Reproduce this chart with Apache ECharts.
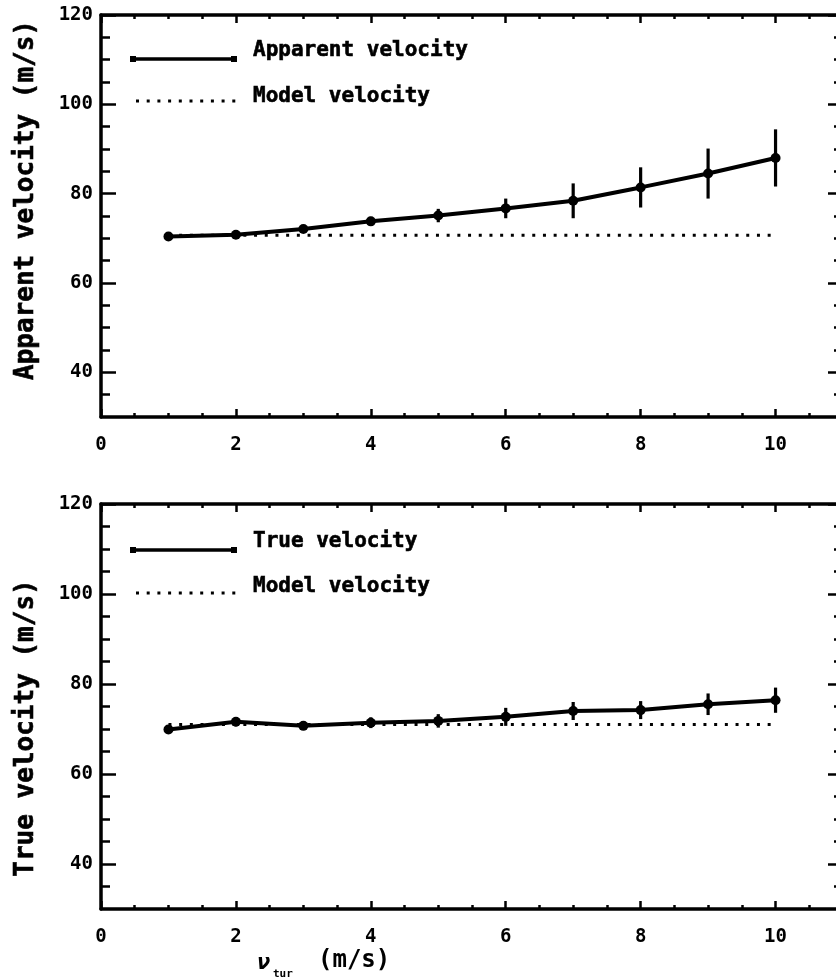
<!DOCTYPE html>
<html>
<head>
<meta charset="utf-8">
<script src="https://cdn.jsdelivr.net/npm/echarts@6/dist/echarts.min.js"></script>
<style>
  html, body { margin: 0; padding: 0; background: #fff; }
  #chart { width: 836px; height: 980px; }
</style>
</head>
<body>
<div id="chart"></div>
<script>
// ---- data ----
const xs = [1, 2, 3, 4, 5, 6, 7, 8, 9, 10];
const apparentVel = [70.4, 70.8, 72.1, 73.8, 75.1, 76.7, 78.4, 81.4, 84.5, 88.0];
const apparentErr = [0.5, 0.6, 0.8, 1.0, 1.5, 2.2, 3.9, 4.5, 5.6, 6.4];
const trueVel = [69.9, 71.6, 70.7, 71.4, 71.8, 72.7, 74.0, 74.2, 75.5, 76.4];
const trueErr = [0.4, 1.0, 0.5, 1.2, 1.5, 2.0, 2.0, 2.0, 2.4, 2.8];
const modelTop = [70.7, 70.7, 70.7, 70.7, 70.7, 70.7, 70.7, 70.7, 70.7, 70.7];
const modelBottom = [71.0, 71.0, 71.0, 71.0, 71.0, 71.0, 71.0, 71.0, 71.0, 71.0];

// tick positions
const xMajor = [0, 2, 4, 6, 8, 10];
const xMinor = [0.5, 1, 1.5, 2.5, 3, 3.5, 4.5, 5, 5.5, 6.5, 7, 7.5, 8.5, 9, 9.5, 10.5];
const yMajor = [40, 60, 80, 100, 120];
const yMinor = [35, 45, 50, 55, 65, 70, 75, 85, 90, 95, 105, 110, 115];

const FONT = "DejaVu Sans Mono";
const BLACK = "#000";

// panel rectangles; x runs 0..11 so the right border falls just past the page edge
const rects = [
  { left: 101, width: 742, top: 15, height: 402 },
  { left: 101, width: 742, top: 504, height: 405 }
];
// each panel uses 4 stacked grids: 0 data+major (bottom/left), 1 minor (bottom/left),
// 2 major mirrored (top/right), 3 minor mirrored (top/right)
const KINDS = ["major", "minor", "majorMirror", "minorMirror"];
const grids = [];
const xAxes = [];
const yAxes = [];

const axLine = { show: true, lineStyle: { color: BLACK, width: 3.5 } };
const tickStyle = { color: BLACK, width: 2.5 };
const labelStyle = { color: BLACK, fontFamily: FONT, fontWeight: "bold", fontSize: 19 };

KINDS.forEach((kind) => {
  rects.forEach((r) => {
    const g = grids.length;
    grids.push({ ...r, outerBoundsMode: "none", containLabel: false });
    const minor = kind.startsWith("minor");
    const mirror = kind.endsWith("Mirror");
    xAxes.push({
      type: "value", gridIndex: g, min: 0, max: 11, position: "bottom",
      offset: mirror ? -r.height : 0,
      splitLine: { show: false },
      axisLine: minor ? { show: false } : axLine,
      axisTick: { show: true, inside: !mirror, length: minor ? 4 : 8,
        customValues: minor ? xMinor : xMajor, lineStyle: tickStyle },
      axisLabel: (minor || mirror) ? { show: false }
        : { show: true, customValues: xMajor, margin: 19, ...labelStyle }
    });
    yAxes.push({
      type: "value", gridIndex: g, min: 30, max: 120, position: "left",
      offset: mirror ? -r.width : 0,
      splitLine: { show: false },
      axisLine: minor ? { show: false } : axLine,
      axisTick: { show: true, inside: !mirror, length: minor ? 9 : 15,
        customValues: minor ? yMinor : yMajor, lineStyle: tickStyle },
      axisLabel: (minor || mirror) ? { show: false }
        : { show: true, customValues: yMajor, margin: 8, ...labelStyle }
    });
  });
});

function errorBars(vals, errs, axisIdx) {
  return {
    type: "custom",
    xAxisIndex: axisIdx, yAxisIndex: axisIdx,
    data: xs.map((x, i) => [x, vals[i], errs[i]]),
    renderItem: (params, api) => {
      const x = api.value(0), y = api.value(1), e = api.value(2);
      const p1 = api.coord([x, y - e]);
      const p2 = api.coord([x, y + e]);
      return {
        type: "line",
        shape: { x1: p1[0], y1: p1[1], x2: p2[0], y2: p2[1] },
        style: { stroke: BLACK, lineWidth: 3.2 }
      };
    },
    z: 3
  };
}

function dataLine(name, vals, axisIdx) {
  return {
    name, type: "line",
    xAxisIndex: axisIdx, yAxisIndex: axisIdx,
    data: xs.map((x, i) => [x, vals[i]]),
    symbol: "circle", symbolSize: 10,
    itemStyle: { color: BLACK },
    lineStyle: { color: BLACK, width: 4 },
    z: 4
  };
}

function modelLine(vals, axisIdx) {
  return {
    name: "Model velocity", type: "line",
    xAxisIndex: axisIdx, yAxisIndex: axisIdx,
    data: xs.map((x, i) => [x, vals[i]]),
    symbol: "none",
    lineStyle: { color: BLACK, width: 3, type: [3, 7.7] },
    z: 2
  };
}

// legend drawn as graphics (solid sample with end squares, dotted sample)
function legendBlock(label, ySolid, yText1, yDots, yText2) {
  const font = "bold 21px " + FONT;
  return [
    { type: "line", shape: { x1: 133, y1: ySolid, x2: 234, y2: ySolid }, style: { stroke: BLACK, lineWidth: 3.5 } },
    { type: "rect", shape: { x: 130, y: ySolid - 3, width: 6, height: 6 }, style: { fill: BLACK } },
    { type: "rect", shape: { x: 231, y: ySolid - 3, width: 6, height: 6 }, style: { fill: BLACK } },
    { type: "text", x: 253, y: yText1, style: { text: label, font, fill: BLACK, verticalAlign: "middle", stroke: BLACK, lineWidth: 0.6 } },
    { type: "line", shape: { x1: 136, y1: yDots, x2: 236, y2: yDots }, style: { stroke: BLACK, lineWidth: 3, lineDash: [3, 7.7] } },
    { type: "text", x: 253, y: yText2, style: { text: "Model velocity", font, fill: BLACK, verticalAlign: "middle", stroke: BLACK, lineWidth: 0.6 } }
  ];
}

const chart = echarts.init(document.getElementById("chart"));
chart.setOption({
  animation: false,
  backgroundColor: "#fff",
  grid: grids,
  xAxis: xAxes,
  yAxis: yAxes,
  series: [
    modelLine(modelTop, 0),
    errorBars(apparentVel, apparentErr, 0),
    dataLine("Apparent velocity", apparentVel, 0),
    modelLine(modelBottom, 1),
    errorBars(trueVel, trueErr, 1),
    dataLine("True velocity", trueVel, 1)
  ],
  graphic: [
    ...legendBlock("Apparent velocity", 59, 51, 101, 97),
    ...legendBlock("True velocity", 550, 542, 593, 587),
    { type: "text", x: 26, y: 200, rotation: Math.PI / 2,
      style: { text: "Apparent velocity (m/s)", font: "bold 26px " + FONT, fill: BLACK, align: "center", verticalAlign: "middle", stroke: BLACK, lineWidth: 0.6 } },
    { type: "text", x: 26, y: 728, rotation: Math.PI / 2,
      style: { text: "True velocity (m/s)", font: "bold 26px " + FONT, fill: BLACK, align: "center", verticalAlign: "middle", stroke: BLACK, lineWidth: 0.6 } },
    { type: "text", x: 257, y: 963, style: { text: "ν", font: "bold italic 22px " + FONT, fill: BLACK, verticalAlign: "middle" } },
    { type: "text", x: 273, y: 974, style: { text: "tur", font: "bold 11px " + FONT, fill: BLACK, verticalAlign: "middle" } },
    { type: "text", x: 318, y: 961, style: { text: "(m/s)", font: "bold 24px " + FONT, fill: BLACK, verticalAlign: "middle" } }
  ]
});
</script>
</body>
</html>
